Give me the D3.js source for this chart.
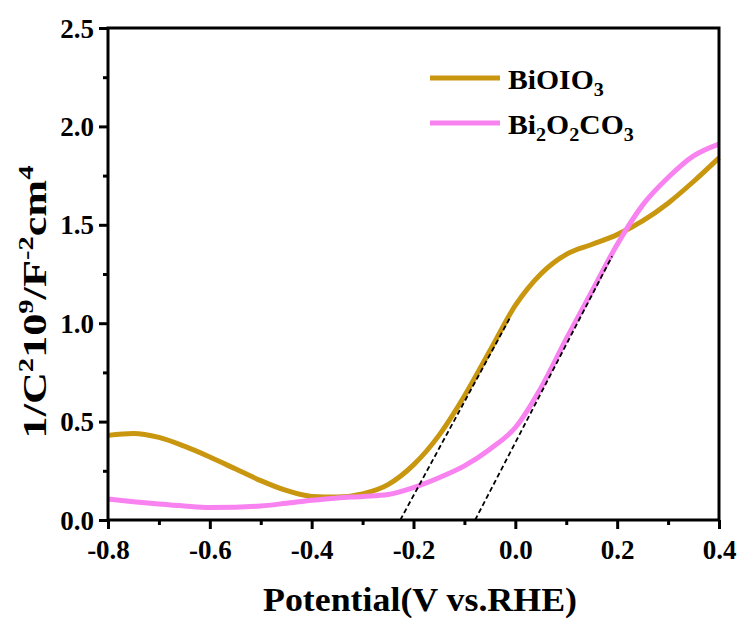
<!DOCTYPE html>
<html>
<head>
<meta charset="utf-8">
<script src="https://cdn.jsdelivr.net/npm/d3@7"></script>
<style>
  body { margin: 0; background: #fff; }
  svg text { font-family: "Liberation Serif", "Times New Roman", serif; font-weight: bold; fill: #000; }
</style>
</head>
<body>
<svg id="chart" width="740" height="619"></svg>
<script>
// Mott-Schottky data
var potential = [-0.8, -0.75, -0.7, -0.65, -0.6, -0.55, -0.5, -0.45, -0.4, -0.35, -0.3, -0.25,
  -0.2, -0.15, -0.1, -0.05, 0, 0.05, 0.1, 0.15, 0.2, 0.25, 0.3, 0.35, 0.4]
var biOIO3 = [0.43, 0.44, 0.42, 0.375, 0.32, 0.26, 0.20, 0.15, 0.12, 0.117, 0.133, 0.18,
  0.28, 0.43, 0.63, 0.86, 1.09, 1.25, 1.35, 1.40, 1.45, 1.52, 1.61, 1.72, 1.84]
var bi2O2CO3 = [0.107, 0.093, 0.081, 0.071, 0.064, 0.065, 0.071, 0.085, 0.10, 0.112, 0.12, 0.13,
  0.165, 0.215, 0.275, 0.36, 0.47, 0.67, 0.92, 1.16, 1.40, 1.60, 1.74, 1.85, 1.91]
// tangent lines (x, y) end points
var tangentA = [[-0.226, 0], [-0.01, 1.03]]
var tangentB = [[-0.079, 0], [0.19, 1.34]]

var xTicks = [-0.8, -0.6, -0.4, -0.2, 0.0, 0.2, 0.4]
var yTicks = [0.0, 0.5, 1.0, 1.5, 2.0, 2.5]
var series = [
  {name: "BiOIO3", values: biOIO3, color: "#c9960f", label: [["BiOIO", false], ["3", true]]},
  {name: "Bi2O2CO3", values: bi2O2CO3, color: "#f882f0", label: [["Bi", false], ["2", true], ["O", false], ["2", true], ["CO", false], ["3", true]]}
]

var margin = {left: 108, right: 21, top: 28, bottom: 99}
var width = 740, height = 619
var svg = d3.select("#chart")
var fmt = function (d) { return d3.format(".1f")(d).replace("\u2212", "-") }

var x = d3.scaleLinear().domain([-0.8, 0.4]).range([margin.left, width - margin.right])
var y = d3.scaleLinear().domain([0, 2.5]).range([height - margin.bottom, margin.top])

var line = d3.line()
  .x(function (d) { return x(d[0]) })
  .y(function (d) { return y(d[1]) })
  .curve(d3.curveMonotoneX)

// curves
series.forEach(function (s) {
  var pts = potential.map(function (p, i) { return [p, s.values[i]] })
  svg.append("path")
    .attr("d", line(pts))
    .attr("fill", "none")
    .attr("stroke", s.color)
    .attr("stroke-width", 5)
    .attr("stroke-linejoin", "round")
})

// dashed tangents
var straight = d3.line().x(function (d) { return x(d[0]) }).y(function (d) { return y(d[1]) })
;[tangentA, tangentB].forEach(function (t) {
  svg.append("path")
    .attr("d", straight(t))
    .attr("fill", "none")
    .attr("stroke", "#000")
    .attr("stroke-width", 1.8)
    .attr("stroke-dasharray", "5,3")
})

// axes
var xMinor = d3.range(-0.7, 0.4, 0.2)
var yMinor = d3.range(0.25, 2.5, 0.5)
var xAxis = svg.append("g").attr("transform", "translate(0," + y(0) + ")")
xAxis.call(d3.axisBottom(x).tickValues(xTicks).tickSize(9).tickFormat(fmt))
var xAxisMinor = svg.append("g").attr("transform", "translate(0," + y(0) + ")")
xAxisMinor.call(d3.axisBottom(x).tickValues(xMinor).tickSize(5).tickFormat(""))
var yAxis = svg.append("g").attr("transform", "translate(" + x(-0.8) + ",0)")
yAxis.call(d3.axisLeft(y).tickValues(yTicks).tickSize(9).tickFormat(fmt))
var yAxisMinor = svg.append("g").attr("transform", "translate(" + x(-0.8) + ",0)")
yAxisMinor.call(d3.axisLeft(y).tickValues(yMinor).tickSize(5).tickFormat(""))

svg.selectAll(".domain").remove()
svg.selectAll(".tick line").attr("stroke", "#000").attr("stroke-width", 3)
svg.selectAll(".tick text")
  .attr("font-size", 27)
  .style("font-family", "Liberation Serif, Times New Roman, serif").style("font-weight", "bold")
xAxis.selectAll("text").attr("dy", null).attr("y", 39)
yAxis.selectAll("text").attr("x", -14).attr("dy", "0.34em")

// frame
svg.append("rect")
  .attr("x", x(-0.8)).attr("y", y(2.5))
  .attr("width", x(0.4) - x(-0.8)).attr("height", y(0) - y(2.5))
  .attr("fill", "none").attr("stroke", "#000").attr("stroke-width", 3)

// axis titles
svg.append("text")
  .attr("x", 420).attr("y", 611)
  .attr("text-anchor", "middle")
  .attr("font-size", 33)
  .attr("textLength", 314)
  .attr("lengthAdjust", "spacingAndGlyphs")
  .text("Potential(V vs.RHE)")

var yt = svg.append("text")
  .attr("transform", "translate(46,302) rotate(-90) scale(1.3,1)")
  .attr("text-anchor", "middle")
  .attr("font-size", 34)
var yParts = [["1/C", 0], ["2", 1], ["10", 0], ["9", 1], ["/F", 0], ["-2", 1], ["cm", 0], ["4", 1]]
yParts.forEach(function (p, i) {
  var ts = yt.append("tspan").text(p[0])
  if (p[1]) ts.attr("font-size", 22).attr("dy", -13)
  else if (i > 0) ts.attr("dy", 13)
})

// legend
var legend = svg.append("g")
series.forEach(function (s, i) {
  var ly = 78 + i * 45
  legend.append("line")
    .attr("x1", 430).attr("x2", 500).attr("y1", ly).attr("y2", ly)
    .attr("stroke", s.color).attr("stroke-width", 5)
  var t = legend.append("text")
    .attr("transform", "translate(508," + (ly + 11) + ") scale(1.06,1)")
    .attr("font-size", 28)
  s.label.forEach(function (p, j) {
    var ts = t.append("tspan").text(p[0])
    if (p[1]) ts.attr("font-size", 19).attr("dy", 7)
    else if (j > 0) ts.attr("dy", -7)
  })
})
</script>
</body>
</html>
